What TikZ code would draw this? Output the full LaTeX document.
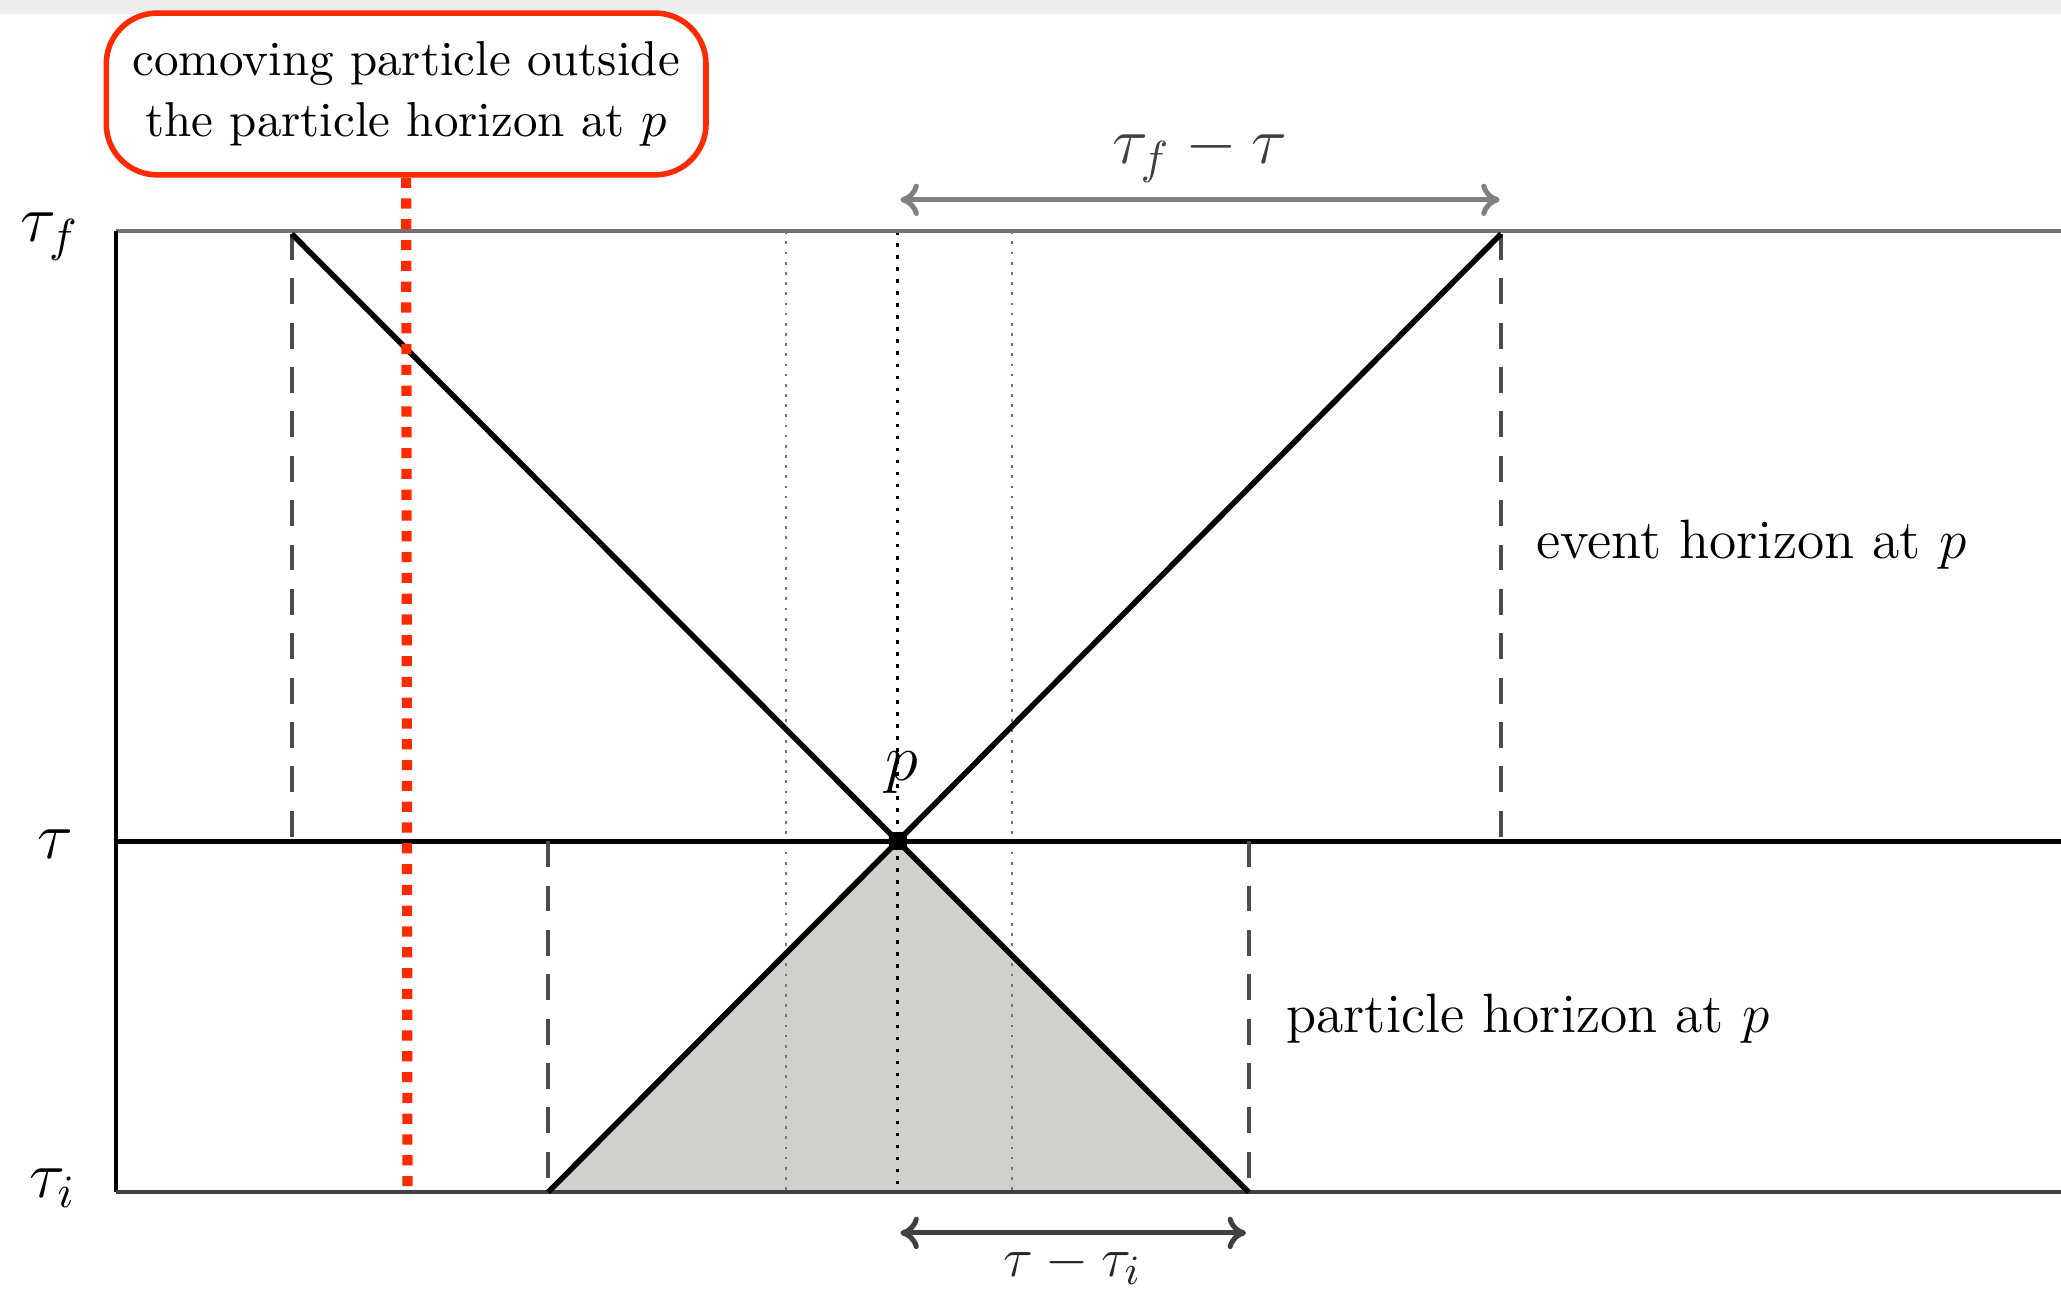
\documentclass[tikz,border=0pt]{standalone}
\usetikzlibrary{arrows.meta}
\definecolor{boxred}{HTML}{FF2A00}
\definecolor{conegray}{HTML}{D0D0CD}
\definecolor{bandgray}{HTML}{EDEDED}
\begin{document}
\begin{tikzpicture}[x=0.01cm,y=-0.01cm,
  worldline/.style={line width=1.2pt,black},
  horizon/.style={line width=0.9pt,black!70,dash pattern=on 5.6pt off 4pt},
  fineline/.style={line width=0.4pt,black!55,dash pattern=on 0.6pt off 1.6pt},
  centerline/.style={line width=0.7pt,black,dash pattern=on 0.8pt off 1.8pt},
  reddot/.style={line width=2.2pt,boxred,dash pattern=on 2.2pt off 2.3pt},
  span/.style={line width=1.1pt,{Computer Modern Rightarrow[length=4pt,width=7pt]}-{Computer Modern Rightarrow[length=4pt,width=7pt]}},
  lbl/.style={inner sep=0pt,font=\fontsize{12}{14}\selectfont},
  axl/.style={inner sep=0pt,font=\fontsize{14}{16}\selectfont}]
\useasboundingbox (0,0) rectangle (1568,986);
\fill[bandgray] (0,0) rectangle (1568,11);
% frame points
\coordinate (TL) at (88,176);
\coordinate (TR) at (1568,176);
\coordinate (ML) at (88,640);
\coordinate (MR) at (1568,640);
\coordinate (BL) at (88,907);
\coordinate (BR) at (1568,907);
\coordinate (p) at (683,640);
\coordinate (eL) at (222,178);
\coordinate (eR) at (1142,178);
\coordinate (eLb) at (222,640);
\coordinate (eRb) at (1142,640);
\coordinate (hL) at (417,907);
\coordinate (hR) at (950,907);
\coordinate (hLt) at (417,640);
\coordinate (hRt) at (950,640);
% shaded past cone
\fill[conegray] (hL) -- (p) -- (hR) -- cycle;
% dotted verticals
\coordinate (d1t) at (598,176); \coordinate (d1b) at (598,907);
\coordinate (d2t) at (683,176); \coordinate (d2b) at (683,907);
\coordinate (d3t) at (770,176); \coordinate (d3b) at (770,907);
\draw[fineline] (d1t) -- (d1b);
\draw[fineline] (d3t) -- (d3b);
\draw[centerline] (d2t) -- (d2b);
% frame
\draw[line width=0.9pt,black!55] (TL) -- (TR);
\draw[line width=0.9pt,black] (TL) -- (BL);
\draw[line width=1pt,black] (ML) -- (MR);
\draw[line width=0.9pt,black!75] (BL) -- (BR);
% horizons
\draw[horizon] (eL) -- (eLb);
\draw[horizon] (eR) -- (eRb);
\draw[horizon] (hLt) -- (hL);
\draw[horizon] (hRt) -- (hR);
% light cones
\draw[worldline] (eL) -- (p) -- (eR);
\draw[worldline] (hL) -- (p) -- (hR);
\fill[black] (676,633) rectangle (690,647);
% red comoving particle
\node[draw=boxred,line width=1.2pt,rounded corners=11pt,minimum width=4.56cm,
      text width=4.35cm,align=center,inner sep=0pt,minimum height=1.23cm,
      font=\fontsize{10.6}{13.2}\selectfont] (box) at (309,71.5)
  {comoving particle outside\\ the particle horizon at $p$};
\coordinate (redb) at (310,903);
\draw[reddot] (box.south) -- (redb);
% arrows
\coordinate (a1l) at (685,152); \coordinate (a1r) at (1141,152);
\coordinate (a2l) at (685,938); \coordinate (a2r) at (948,938);
\draw[span,black!50] (a1l) -- (a1r);
\draw[span,black!75] (a2l) -- (a2r);
% labels
\node[axl] (tf) at (38,180) {$\tau_f$};
\node[axl] (tm) at (42,642) {$\tau$};
\node[axl] (ti) at (40,904) {$\tau_i$};
\node[axl] (plab) at (686,588) {$p$};
\node[axl,black!75] (l1) at (913,117) {$\tau_f-\tau$};
\node[axl,black!85,font=\fontsize{13}{15}\selectfont] (l2) at (816,962) {$\tau-\tau_i$};
\node[lbl,anchor=west] (ev) at (1168,414) {event horizon at $p$};
\node[lbl,anchor=west] (ph) at (978,775) {particle horizon at $p$};
\end{tikzpicture}
\end{document}
